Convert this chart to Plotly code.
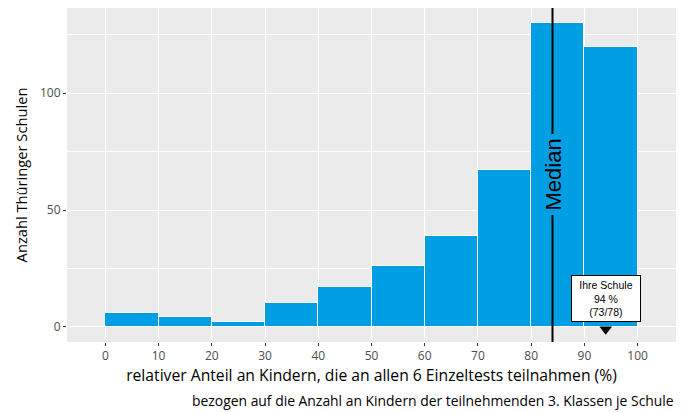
import plotly.graph_objects as go

bin_starts = [0, 10, 20, 30, 40, 50, 60, 70, 80, 90]
bin_width = 10
counts = [6, 4, 2, 10, 17, 26, 39, 67, 130, 120]
median_value = 84
school_value = 94
school_label = "Ihre Schule<br>94 %<br>(73/78)"
x_ticks = [0, 10, 20, 30, 40, 50, 60, 70, 80, 90, 100]
y_ticks = [0, 50, 100]

BAR = "#009FE3"
FONT = "Open Sans"

y_max = max(counts)
y_rng = [-0.05 * y_max, 1.05 * y_max]
x_lo, x_hi = -2, 102
x_pad = 0.05 * (x_hi - x_lo)
x_rng = [x_lo - x_pad, x_hi + x_pad]

fig = go.Figure()
fig.add_trace(go.Bar(
    x=[s + bin_width / 2 for s in bin_starts], y=counts, width=bin_width,
    marker=dict(color=BAR, line=dict(color="white", width=1)),
    hoverinfo="skip", showlegend=False))

fig.add_trace(go.Scatter(
    x=[school_value], y=[-1.0], mode="markers",
    marker=dict(symbol="triangle-down", size=11, color="black"),
    hoverinfo="skip", showlegend=False))

fig.add_shape(type="line", x0=median_value, x1=median_value, y0=y_rng[0], y1=y_rng[1],
              xref="x", yref="y", line=dict(color="black", width=2), layer="above")

fig.add_annotation(x=median_value, y=65, text="Median", textangle=-90, showarrow=False,
                   font=dict(family="Liberation Sans", size=22, color="black"),
                   bgcolor=BAR, borderpad=4)

fig.add_annotation(x=school_value, y=12.3, text=school_label, showarrow=False,
                   font=dict(family="Liberation Sans", size=10.5, color="black"),
                   bgcolor="white", bordercolor="black", borderwidth=1, borderpad=3,
                   width=62)

fig.add_annotation(x=1, y=-0.174, xref="paper", yref="paper", xanchor="right", yanchor="middle",
                   text="bezogen auf die Anzahl an Kindern der teilnehmenden 3. Klassen je Schule",
                   showarrow=False, font=dict(family=FONT, size=13.9, color="black"))

fig.update_layout(
    width=692, height=412,
    margin=dict(l=67, r=16, t=8, b=70),
    plot_bgcolor="#EBEBEB", paper_bgcolor="white",
    font=dict(family=FONT),
    bargap=0,
    xaxis=dict(range=x_rng, tickvals=x_ticks, showgrid=True, gridcolor="white", gridwidth=1.2,
               zeroline=False, ticks="outside", ticklen=3, tickcolor="#333333", tickwidth=1,
               tickfont=dict(size=12, color="#4D4D4D"), automargin=False,
               title=dict(text="relativer Anteil an Kindern, die an allen 6 Einzeltests teilnahmen (%)",
                          font=dict(size=15.7, color="black"), standoff=4)),
    yaxis=dict(range=y_rng, tickvals=y_ticks, showgrid=True, gridcolor="white", gridwidth=1.2,
               zeroline=False, ticks="outside", ticklen=3, tickcolor="#333333", tickwidth=1,
               tickfont=dict(size=12, color="#4D4D4D"), automargin=False,
               minor=dict(tickvals=[25, 75, 125], showgrid=True, gridcolor="white", gridwidth=0.6, ticks=""),
               title=dict(text="Anzahl Thüringer Schulen", font=dict(size=14.7, color="black"), standoff=8)),
)

fig.write_html("out.html", config={"displayModeBar": False},
               post_script="document.body.style.margin='0';")
